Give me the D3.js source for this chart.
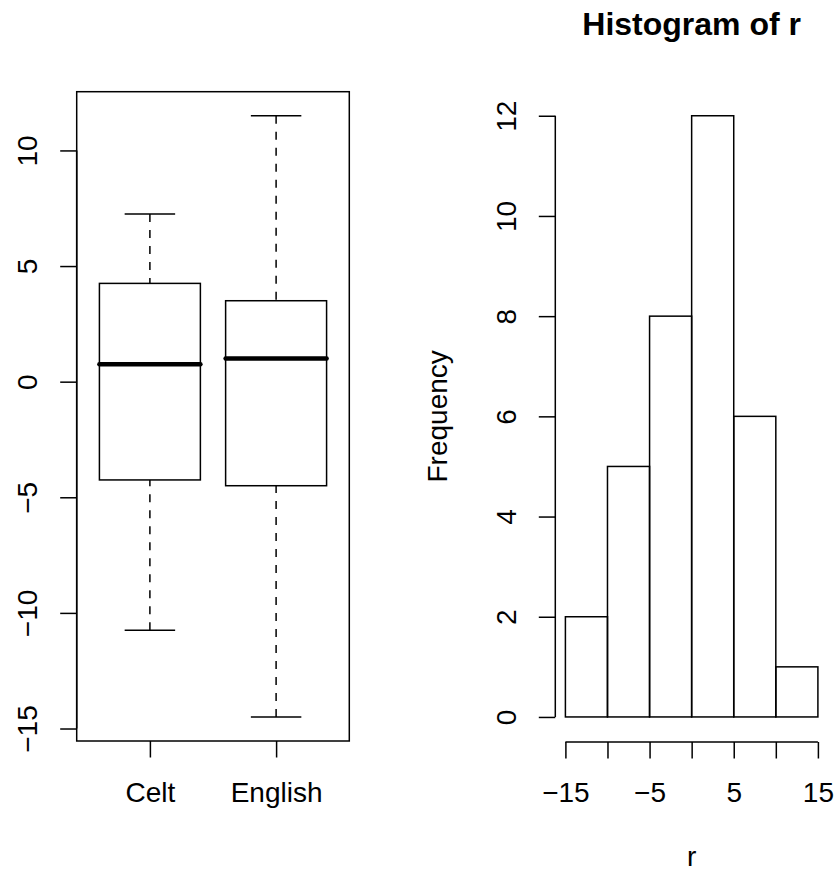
<!DOCTYPE html>
<html>
<head>
  <meta charset="utf-8">
  <title>Boxplot and histogram of r</title>
  <script src="https://cdn.jsdelivr.net/npm/d3@7"></script>
  <style>
    body { margin: 0; background: #fff; }
    svg text { font-family: "Liberation Sans", Arial, Helvetica, sans-serif; fill: #000; }
  </style>
</head>
<body>
  <svg id="chart" width="838" height="871"></svg>

  <script>
    // boxplot summary per group
    var groups = ['Celt', 'English'];
    var whiskerLow = [-10.75, -14.5];
    var q1 = [-4.25, -4.5];
    var median = [0.75, 1.0];
    var q3 = [4.25, 3.5];
    var whiskerHigh = [7.25, 11.5];
    var boxTicks = [-15, -10, -5, 0, 5, 10];

    // histogram of r
    var binEdges = [-15, -10, -5, 0, 5, 10, 15];
    var counts = [2, 5, 8, 12, 6, 1];
    var histXTicks = [-15, -10, -5, 0, 5, 10, 15];
    var histXLabels = [-15, -5, 5, 15];
    var histYTicks = [0, 2, 4, 6, 8, 10, 12];

    var svg = d3.select('#chart');
    var fmt = d3.format('d');  // uses the unicode minus
    var tick = 16.5, lw = 1.5, fs = 28;

    // plot regions (R style, 4% padding on data range)
    var plotTop = 91.7, plotBottom = 741;

    // ---------- left: boxplot ----------
    var lo = d3.min(whiskerLow), hi = d3.max(whiskerHigh), pad = (hi - lo) * 0.04;
    var yL = d3.scaleLinear().domain([lo - pad, hi + pad]).range([plotBottom, plotTop]);
    var xL = d3.scaleLinear().domain([0.5 - 0.08, groups.length + 0.5 + 0.08]).range([76.7, 349.3]);

    var left = svg.append('g');

    left.append('rect')
      .attr('x', xL.range()[0]).attr('y', plotTop)
      .attr('width', xL.range()[1] - xL.range()[0]).attr('height', plotBottom - plotTop)
      .attr('fill', 'none').attr('stroke', '#000').attr('stroke-width', lw);

    var box = left.selectAll('.box')
      .data(groups)
      .enter()
      .append('g')
      .attr('class', 'box');

    // whiskers, dashed, drawn from the end toward the box
    box.append('line')
      .attr('x1', (d, i) => xL(i + 1)).attr('x2', (d, i) => xL(i + 1))
      .attr('y1', (d, i) => yL(whiskerHigh[i])).attr('y2', (d, i) => yL(q3[i]))
      .attr('stroke', '#000').attr('stroke-width', lw).attr('stroke-dasharray', '8,8');
    box.append('line')
      .attr('x1', (d, i) => xL(i + 1)).attr('x2', (d, i) => xL(i + 1))
      .attr('y1', (d, i) => yL(whiskerLow[i])).attr('y2', (d, i) => yL(q1[i]))
      .attr('stroke', '#000').attr('stroke-width', lw).attr('stroke-dasharray', '8,8');

    // caps
    [whiskerHigh, whiskerLow].forEach(arr => {
      box.append('line')
        .attr('x1', (d, i) => xL(i + 1 - 0.2)).attr('x2', (d, i) => xL(i + 1 + 0.2))
        .attr('y1', (d, i) => yL(arr[i])).attr('y2', (d, i) => yL(arr[i]))
        .attr('stroke', '#000').attr('stroke-width', lw);
    });

    box.append('rect')
      .attr('x', (d, i) => xL(i + 1 - 0.4))
      .attr('width', (d, i) => xL(i + 1 + 0.4) - xL(i + 1 - 0.4))
      .attr('y', (d, i) => yL(q3[i]))
      .attr('height', (d, i) => yL(q1[i]) - yL(q3[i]))
      .attr('fill', 'none').attr('stroke', '#000').attr('stroke-width', lw);

    box.append('line')
      .attr('x1', (d, i) => xL(i + 1 - 0.4)).attr('x2', (d, i) => xL(i + 1 + 0.4))
      .attr('y1', (d, i) => yL(median[i])).attr('y2', (d, i) => yL(median[i]))
      .attr('stroke', '#000').attr('stroke-width', 4.5).attr('stroke-linecap', 'round');

    // y axis of boxplot
    var ayL = left.append('g')
      .attr('transform', 'translate(' + xL.range()[0] + ',0)')
      .call(d3.axisLeft(yL).tickValues(boxTicks).tickSize(tick).tickFormat(fmt));
    ayL.select('.domain').remove();
    ayL.append('line')
      .attr('y1', yL(d3.min(boxTicks))).attr('y2', yL(d3.max(boxTicks)))
      .attr('stroke', '#000').attr('stroke-width', lw);

    // x axis of boxplot
    var axL = left.append('g')
      .attr('transform', 'translate(0,' + plotBottom + ')')
      .call(d3.axisBottom(xL).tickValues(d3.range(1, groups.length + 1)).tickSize(tick)
        .tickFormat(d => groups[d - 1]));
    axL.select('.domain').remove();

    // ---------- right: histogram ----------
    var xPad = (d3.max(binEdges) - d3.min(binEdges)) * 0.04;
    var xR = d3.scaleLinear()
      .domain([d3.min(binEdges) - xPad, d3.max(binEdges) + xPad])
      .range([555.3, 828]);
    var yPad = d3.max(counts) * 0.04;
    var yR = d3.scaleLinear().domain([-yPad, d3.max(counts) + yPad]).range([plotBottom, plotTop]);

    var right = svg.append('g');

    right.selectAll('.bar')
      .data(counts)
      .enter()
      .append('rect')
      .attr('class', 'bar')
      .attr('x', (d, i) => xR(binEdges[i]))
      .attr('width', (d, i) => xR(binEdges[i + 1]) - xR(binEdges[i]))
      .attr('y', d => yR(d))
      .attr('height', d => yR(0) - yR(d))
      .attr('fill', 'none').attr('stroke', '#000').attr('stroke-width', lw);

    var ayR = right.append('g')
      .attr('transform', 'translate(' + xR.range()[0] + ',0)')
      .call(d3.axisLeft(yR).tickValues(histYTicks).tickSize(tick).tickFormat(fmt));
    ayR.select('.domain').remove();
    ayR.append('line')
      .attr('y1', yR(d3.min(histYTicks))).attr('y2', yR(d3.max(histYTicks)))
      .attr('stroke', '#000').attr('stroke-width', lw);

    var axR = right.append('g')
      .attr('transform', 'translate(0,' + (plotBottom + 1) + ')')
      .call(d3.axisBottom(xR).tickValues(histXTicks).tickSize(tick)
        .tickFormat(d => histXLabels.indexOf(d) >= 0 ? fmt(d) : ''));
    axR.select('.domain').remove();
    axR.append('line')
      .attr('x1', xR(d3.min(histXTicks))).attr('x2', xR(d3.max(histXTicks)))
      .attr('stroke', '#000').attr('stroke-width', lw);

    // R-like look for all axes
    svg.selectAll('.tick line').attr('stroke', '#000').attr('stroke-width', lw);

    [ayL, ayR].forEach(a => {
      a.selectAll('.tick text')
        .attr('transform', 'rotate(-90)')
        .attr('x', 0).attr('y', -39.5).attr('dy', null)
        .attr('text-anchor', 'middle')
        .style('font-size', fs + 'px');
    });
    [axL, axR].forEach(a => {
      a.selectAll('.tick text')
        .attr('y', 0).attr('dy', null)
        .style('font-size', fs + 'px');
    });
    axL.selectAll('.tick text').attr('y', 801.7 - plotBottom);
    axR.selectAll('.tick text').attr('y', 801.7 - plotBottom - 1);
    svg.selectAll('.tick text').attr('font-family', null).attr('font-size', null);
    svg.selectAll('g').attr('font-family', null).attr('font-size', null);

    // titles
    var cx = (xR.range()[0] + xR.range()[1]) / 2;
    svg.append('text')
      .attr('x', cx).attr('y', 35)
      .attr('text-anchor', 'middle')
      .style('font-size', '32px').style('font-weight', 'bold')
      .text('Histogram of r');

    svg.append('text')
      .attr('x', cx).attr('y', 866)
      .attr('text-anchor', 'middle')
      .style('font-size', fs + 'px')
      .text('r');

    svg.append('text')
      .attr('transform', 'translate(446.7,' + (plotTop + plotBottom) / 2 + ') rotate(-90)')
      .attr('text-anchor', 'middle')
      .style('font-size', fs + 'px')
      .text('Frequency');
  </script>
</body>
</html>
